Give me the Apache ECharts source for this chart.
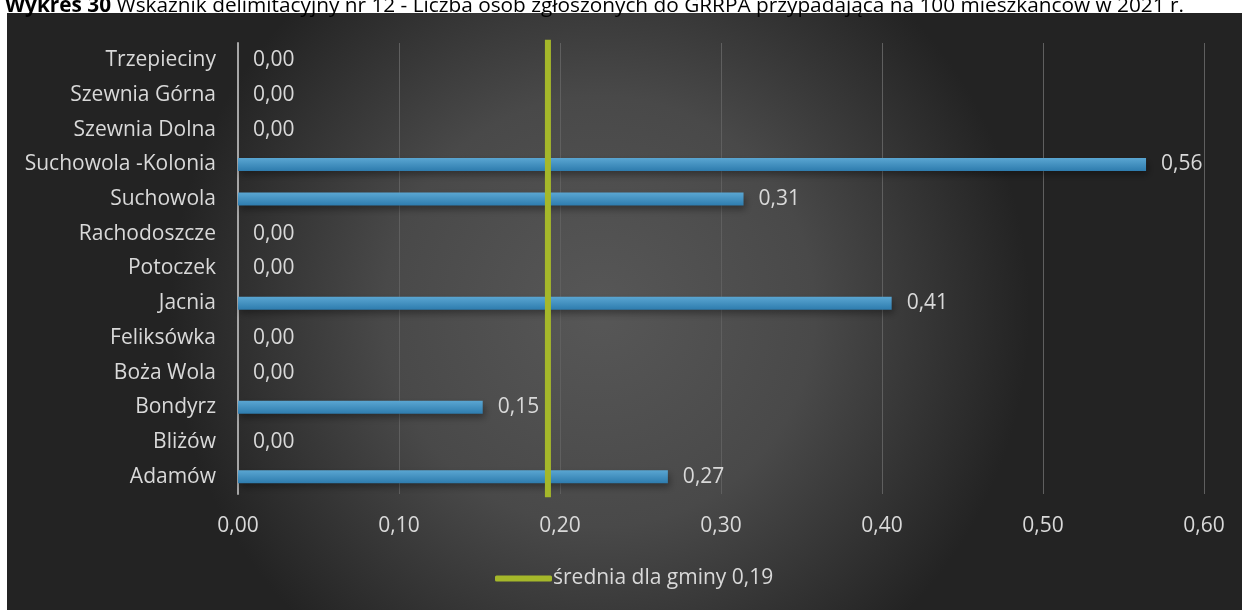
<!DOCTYPE html>
<html>
<head>
<meta charset="utf-8">
<script src="https://cdn.jsdelivr.net/npm/echarts@6/dist/echarts.min.js"></script>
<style>
html,body{margin:0;padding:0;background:#fff;}
#c{width:1242px;height:610px;}
</style>
</head>
<body>
<div id="c"></div>
<script>
const categories = ['Adamów','Bliżów','Bondyrz','Boża Wola','Feliksówka','Jacnia','Potoczek','Rachodoszcze','Suchowola','Suchowola -Kolonia','Szewnia Dolna','Szewnia Górna','Trzepieciny'];
const values = [0.267, 0, 0.152, 0, 0, 0.406, 0, 0, 0.314, 0.564, 0, 0, 0];
const averageValue = 0.1925;
const averageName = 'średnia dla gminy 0,19';
const xTicks = [0, 0.1, 0.2, 0.3, 0.4, 0.5, 0.6];
const titleBold = 'Wykres 30';
const titleRest = ' Wskaźnik delimitacyjny nr 12 - Liczba osób zgłoszonych do GRRPA przypadająca na 100 mieszkańców w 2021 r.';

const FONT = '"Open Sans", sans-serif';
const TXT = '#d9d9d9';
const FS = 21;
const chart = echarts.init(document.getElementById('c'));
const fmt = v => v.toFixed(2).replace('.', ',');

chart.setOption({
  animation: false,
  backgroundColor: '#ffffff',
  textStyle: {fontFamily: FONT},
  graphic: [{
    type: 'rect', z: -10, silent: true,
    shape: {x: 7, y: 13, width: 1235, height: 597},
    style: {fill: {type: 'radial', x: 0.48, y: 0.5, r: 0.72,
      colorStops: [{offset: 0, color: '#575757'}, {offset: 0.5, color: '#494949'}, {offset: 1, color: '#232323'}]}}
  }],
  title: {
    left: 0, top: -9,
    text: '{b|' + titleBold + '}{r|' + titleRest + '}',
    textStyle: {fontWeight: 'normal', rich: {
      b: {fontFamily: FONT, fontWeight: 'bold', fontSize: 20.8, color: '#000'},
      r: {fontFamily: FONT, fontWeight: 'normal', fontSize: 20.8, color: '#000'}
    }}
  },
  legend: {
    bottom: 16, left: 490,
    data: [{name: averageName, icon: 'roundRect'}],
    itemWidth: 57, itemHeight: 6, itemGap: 10,
    textStyle: {color: TXT, fontSize: FS, fontFamily: FONT, padding: [0, 0, 0, -4]}
  },
  grid: {left: 238, right: 38, top: 43, bottom: 116, containLabel: false},
  xAxis: {
    type: 'value', min: 0, max: 0.6, interval: 0.1,
    axisLine: {show: false}, axisTick: {show: false},
    splitLine: {lineStyle: {color: '#5f5f5f', width: 1}},
    axisLabel: {color: TXT, fontSize: FS, fontFamily: FONT, margin: 22, formatter: v => fmt(v)}
  },
  yAxis: [{
    type: 'category', data: categories,
    axisLine: {lineStyle: {color: '#a6a6a6', width: 2}},
    axisTick: {show: false},
    axisLabel: {color: TXT, fontSize: FS, fontFamily: FONT, margin: 22}
  }, {
    type: 'value', min: 0, max: 1, show: false
  }],
  series: [{
    type: 'bar', data: values, yAxisIndex: 0, barWidth: 13,
    itemStyle: {
      color: {type: 'linear', x: 0, y: 0, x2: 0, y2: 1,
        colorStops: [{offset: 0, color: '#5aa6d2'}, {offset: 1, color: '#2e7cae'}]},
      shadowBlur: 7, shadowOffsetY: 4, shadowOffsetX: 2, shadowColor: 'rgba(0,0,0,0.35)'
    },
    label: {show: true, position: 'right', distance: 15, color: TXT, fontSize: FS, fontFamily: FONT,
      formatter: p => fmt(p.value)}
  }, {
    type: 'line', name: averageName, yAxisIndex: 1, clip: false,
    data: [[averageValue, -0.007], [averageValue, 1.007]],
    symbol: 'none',
    lineStyle: {color: '#a5b82a', width: 6},
    itemStyle: {color: '#a5b82a'}
  }]
});
</script>
</body>
</html>
